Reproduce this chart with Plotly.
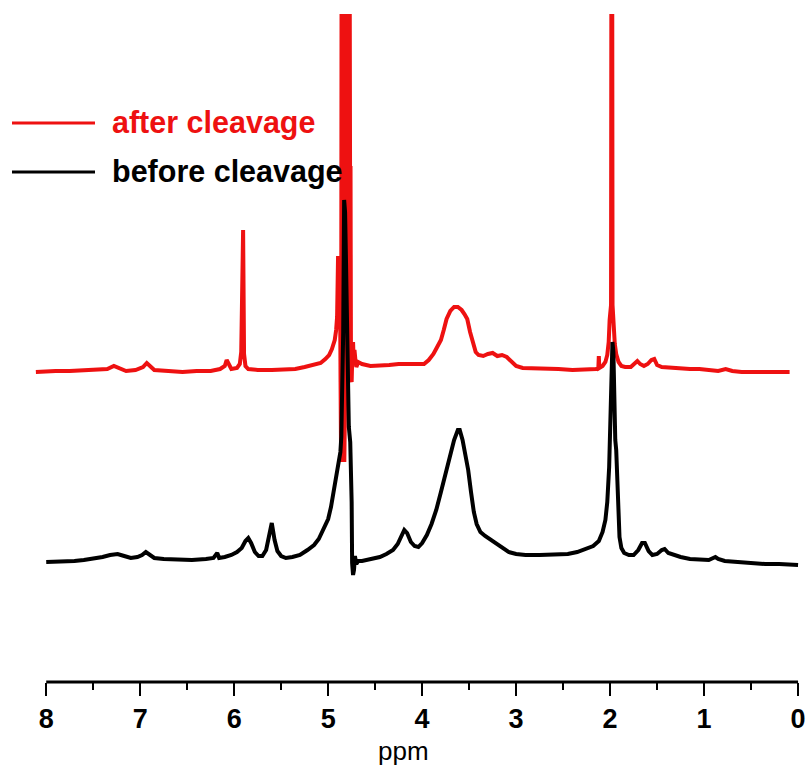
import plotly.graph_objects as go

# 1H NMR spectra: chemical shift (ppm) and intensity (a.u.), before and after cleavage
before_ppm = [8.00, 7.90, 7.80, 7.70, 7.60, 7.50, 7.40, 7.32, 7.24, 7.17, 7.10, 7.03, 6.98,
              6.94, 6.90, 6.85, 6.75, 6.60, 6.45, 6.30, 6.22, 6.18, 6.16, 6.10, 6.03, 5.97,
              5.92, 5.88, 5.85, 5.82, 5.78, 5.74, 5.70, 5.66, 5.63, 5.60, 5.57, 5.54, 5.50,
              5.45, 5.38, 5.30, 5.22, 5.15, 5.10, 5.05, 5.00, 4.97, 4.94, 4.91, 4.89, 4.87,
              4.86, 4.85, 4.84, 4.83, 4.82, 4.81, 4.80, 4.79, 4.78, 4.765, 4.755, 4.75,
              4.745, 4.735, 4.725, 4.715, 4.70, 4.68, 4.64, 4.55, 4.45, 4.38, 4.31, 4.26,
              4.22, 4.19, 4.16, 4.12, 4.08, 4.04, 4.00, 3.95, 3.90, 3.85, 3.80, 3.75, 3.70,
              3.66, 3.62, 3.60, 3.57, 3.54, 3.51, 3.48, 3.45, 3.42, 3.38, 3.33, 3.28, 3.22,
              3.15, 3.08, 3.00, 2.90, 2.75, 2.60, 2.45, 2.35, 2.25, 2.18, 2.12, 2.08, 2.05,
              2.03, 2.01, 1.995, 1.985, 1.975, 1.965, 1.955, 1.945, 1.935, 1.925, 1.915,
              1.90, 1.88, 1.85, 1.80, 1.75, 1.70, 1.66, 1.63, 1.59, 1.55, 1.50, 1.45, 1.42,
              1.38, 1.32, 1.25, 1.15, 1.05, 0.95, 0.88, 0.85, 0.78, 0.65, 0.50, 0.35, 0.20,
              0.00]
before_int = [120, 120, 121, 121, 122, 123, 125, 127, 128, 126, 124, 125, 127,
              130, 127, 124, 123, 122, 122, 123, 124, 129, 124, 125, 127, 130,
              134, 141, 144, 139, 130, 126, 126, 132, 145, 159, 142, 131, 126,
              124, 125, 127, 132, 137, 143, 152, 163, 175, 190, 205, 215, 230,
              245, 280, 350, 482, 470, 420, 340, 290, 255, 240, 215, 180,
              119, 107, 112, 126, 118, 121, 121, 123, 125, 128, 132, 138,
              146, 152, 149, 140, 136, 135, 139, 147, 158, 172, 190, 210, 228,
              242, 252, 252, 242, 228, 212, 190, 170, 158, 150, 146, 143, 139,
              134, 130, 128, 127, 127, 127, 128, 130, 133, 136, 141, 150, 162,
              180, 215, 260, 300, 340, 330, 250, 242, 232, 200, 165,
              145, 134, 129, 127, 127, 132, 139, 139, 131, 127, 128, 132, 133,
              129, 127, 125, 123, 122, 122, 125, 123, 121, 120, 119, 118, 118,
              117]

after_ppm = [8.11, 8.00, 7.90, 7.75, 7.60, 7.45, 7.35, 7.28, 7.22, 7.15, 7.05, 6.97, 6.93,
             6.89, 6.85, 6.70, 6.55, 6.40, 6.25, 6.15, 6.10, 6.08, 6.06, 6.03, 5.97, 5.94,
             5.925, 5.915, 5.905, 5.895, 5.88, 5.85, 5.75, 5.60, 5.45, 5.35, 5.25, 5.15,
             5.08, 5.03, 4.99, 4.96, 4.93, 4.915, 4.905, 4.895, 4.875, 4.868, 4.862,
             4.857, 4.843, 4.828, 4.818, 4.812, 4.797, 4.789, 4.782, 4.772, 4.767, 4.762,
             4.757, 4.750, 4.742, 4.735, 4.728, 4.72, 4.71, 4.70, 4.68, 4.64, 4.55, 4.45,
             4.35, 4.25, 4.16, 4.05, 3.98, 3.93, 3.88, 3.84, 3.80, 3.77, 3.74, 3.70, 3.66,
             3.62, 3.58, 3.55, 3.52, 3.49, 3.46, 3.43, 3.40, 3.35, 3.30, 3.25, 3.20, 3.15,
             3.10, 3.05, 3.00, 2.93, 2.85, 2.70, 2.55, 2.40, 2.25, 2.15, 2.125, 2.12,
             2.115, 2.08, 2.05, 2.03, 2.015, 2.005, 1.995, 1.99, 1.986, 1.978, 1.974, 1.97,
             1.96, 1.95, 1.935, 1.91, 1.88, 1.84, 1.78, 1.74, 1.71, 1.68, 1.64, 1.60, 1.56,
             1.53, 1.50, 1.45, 1.35, 1.25, 1.15, 1.05, 0.95, 0.85, 0.77, 0.70, 0.60, 0.45,
             0.30, 0.09]
after_int = [310, 311, 311, 311, 312, 312, 313, 316, 314, 311, 312, 315, 319,
             315, 312, 311, 310, 311, 311, 313, 316, 322, 318, 313, 314, 318,
             330, 452, 452, 328, 316, 313, 312, 312, 312, 313, 315, 317,
             319, 323, 327, 333, 342, 352, 365, 424, 424, 300, 220,
             760, 760, 220, 300, 760, 760, 330, 760, 760, 514, 514,
             302, 300, 330, 340, 320, 332, 322, 315, 320, 318, 316, 316,
             317, 318, 318, 317, 318, 322, 328, 335, 342, 352, 363, 371, 375,
             375, 372, 368, 363, 350, 338, 330, 327, 326, 328, 329, 326, 327,
             325, 320, 316, 314, 314, 313, 313, 312, 312, 313, 314, 326,
             314, 316, 320, 327, 340, 362, 375, 377, 760, 760, 377, 370,
             352, 338, 328, 320, 316, 315, 315, 318, 321, 318, 316, 318, 322,
             323, 317, 315, 314, 313, 313, 313, 312, 311, 313, 311, 310, 310,
             310, 310]

series_names = ["after cleavage", "before cleavage"]
series_colors = ["#ee1111", "#000000"]

tick_values = [8, 7, 6, 5, 4, 3, 2, 1, 0]
tick_labels = ["8", "7", "6", "5", "4", "3", "2", "1", "0"]
x_title = "ppm"

W, H = 808, 772
ML, MR, MT, MB = 34, 9, 14, 90
PW, PH = W - ML - MR, H - MT - MB
FONT = "Liberation Sans, Arial"


def px_x(px):
    return (px - ML) / PW


def px_y(py):
    return (H - MB - py) / PH


fig = go.Figure()
fig.add_trace(go.Scatter(x=after_ppm, y=after_int, mode="lines", name=series_names[0],
                         line=dict(color=series_colors[0], width=4), showlegend=False))
fig.add_trace(go.Scatter(x=before_ppm, y=before_int, mode="lines", name=series_names[1],
                         line=dict(color=series_colors[1], width=4), showlegend=False))

# bottom axis line spanning 8 -> 0 ppm only
fig.add_shape(type="line", xref="x", yref="paper", x0=tick_values[0], x1=tick_values[-1],
              y0=0, y1=0, line=dict(color="black", width=3))

# legend drawn as long line samples with bold labels
legend_rows = [123, 172]
for name, color, row in zip(series_names, series_colors, legend_rows):
    fig.add_shape(type="line", xref="paper", yref="paper",
                  x0=px_x(12), x1=px_x(95), y0=px_y(row), y1=px_y(row),
                  line=dict(color=color, width=3))
    fig.add_annotation(xref="paper", yref="paper", x=px_x(110), y=px_y(row - 1),
                       xanchor="left", yanchor="middle", showarrow=False, text=f"<b>{name}</b>",
                       font=dict(family=FONT, size=30.5, color=color))

# axis title, set slightly left of the axis centre
fig.add_annotation(xref="paper", yref="paper", x=px_x(403), y=px_y(751),
                   xanchor="center", yanchor="middle", showarrow=False, text=x_title,
                   font=dict(family=FONT, size=26, color="black"))

fig.update_layout(
    width=W, height=H,
    margin=dict(l=ML, r=MR, t=MT, b=MB, autoexpand=False),
    paper_bgcolor="white", plot_bgcolor="white",
    xaxis=dict(range=[8.13, -0.01], automargin=False, showgrid=False, zeroline=False,
               showline=False, tickmode="array", tickvals=tick_values,
               ticktext=[f"<b>{t}</b>" for t in tick_labels],
               ticks="outside", ticklen=13, tickwidth=2, tickcolor="black",
               minor=dict(ticks="outside", ticklen=7, tickwidth=2, tickcolor="black", dtick=0.5,
                          tick0=0, showgrid=False),
               tickfont=dict(family=FONT, size=27, color="black")),
    yaxis=dict(range=[0, 668], visible=False, showgrid=False, zeroline=False, automargin=False),
)

fig.write_html("out.html")
